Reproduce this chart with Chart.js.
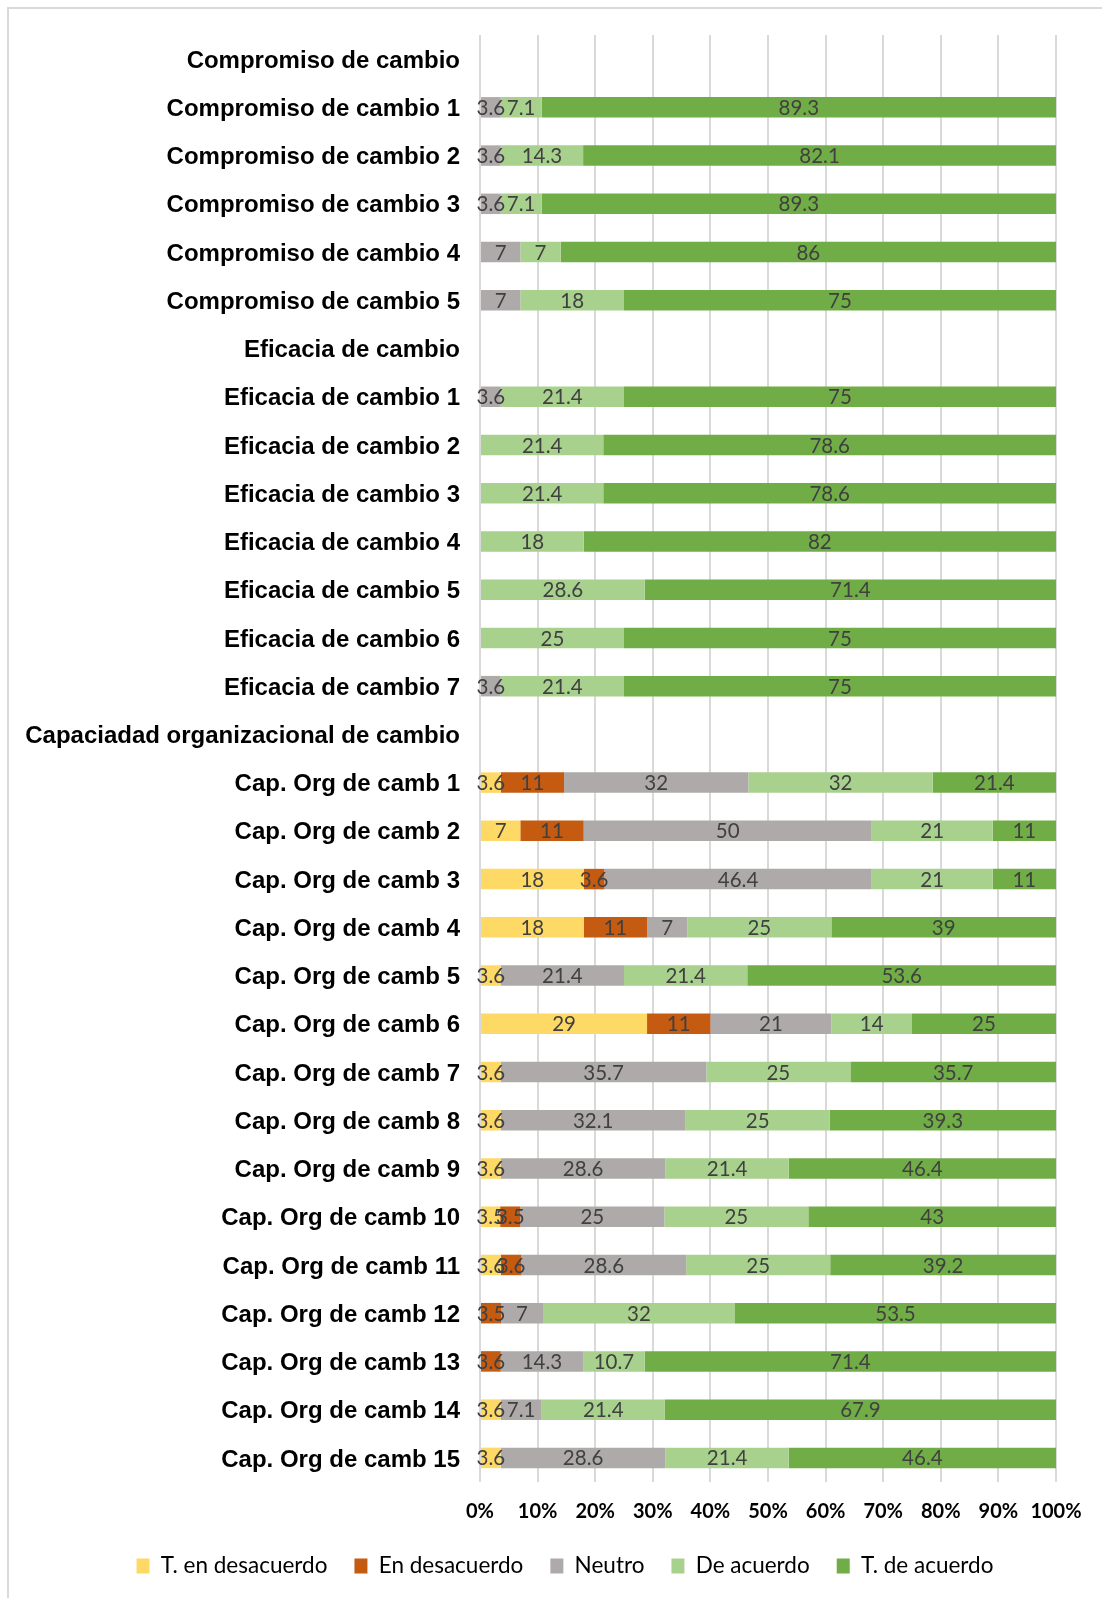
<!DOCTYPE html>
<html>
<head>
<meta charset="utf-8">
<script src="https://cdn.jsdelivr.net/npm/chart.js@4/dist/chart.umd.min.js"></script>
<style>
  html, body { margin: 0; padding: 0; background: #ffffff; }
  #wrap { position: relative; width: 1102px; height: 1598px; overflow: hidden; }
  #frame { position: absolute; left: 7px; top: 7px; width: 1200px; height: 1700px;
           border-left: 2px solid #d9d9d9; border-top: 2px solid #d9d9d9; }
  canvas { position: absolute; left: 0; top: 0; }
</style>
</head>
<body>
<div id="wrap">
  <div id="frame"></div>
  <canvas id="c" width="1102" height="1598"></canvas>
</div>
<script>
// Row labels (section headers have no bars)
const categories = [
  "Compromiso de cambio",
  "Compromiso de cambio 1", "Compromiso de cambio 2", "Compromiso de cambio 3",
  "Compromiso de cambio 4", "Compromiso de cambio 5",
  "Eficacia de cambio",
  "Eficacia de cambio 1", "Eficacia de cambio 2", "Eficacia de cambio 3",
  "Eficacia de cambio 4", "Eficacia de cambio 5", "Eficacia de cambio 6",
  "Eficacia de cambio 7",
  "Capaciadad organizacional de cambio",
  "Cap. Org de camb 1", "Cap. Org de camb 2", "Cap. Org de camb 3",
  "Cap. Org de camb 4", "Cap. Org de camb 5", "Cap. Org de camb 6",
  "Cap. Org de camb 7", "Cap. Org de camb 8", "Cap. Org de camb 9",
  "Cap. Org de camb 10", "Cap. Org de camb 11", "Cap. Org de camb 12",
  "Cap. Org de camb 13", "Cap. Org de camb 14", "Cap. Org de camb 15"
];

const seriesNames = ["T. en desacuerdo", "En desacuerdo", "Neutro", "De acuerdo", "T. de acuerdo"];
const seriesColors = ["#FFD966", "#C55A11", "#AEAAAA", "#A9D18E", "#70AD47"];

// Percentages per response option
const tEnDesacuerdo = [
  null, null, null, null, null, null,
  null, null, null, null, null, null, null, null,
  null, 3.6, 7, 18, 18, 3.6, 29, 3.6, 3.6, 3.6, 3.5, 3.6, null, null, 3.6, 3.6
];
const enDesacuerdo = [
  null, null, null, null, null, null,
  null, null, null, null, null, null, null, null,
  null, 11, 11, 3.6, 11, null, 11, null, null, null, 3.5, 3.6, 3.5, 3.6, null, null
];
const neutro = [
  null, 3.6, 3.6, 3.6, 7, 7,
  null, 3.6, null, null, null, null, null, 3.6,
  null, 32, 50, 46.4, 7, 21.4, 21, 35.7, 32.1, 28.6, 25, 28.6, 7, 14.3, 7.1, 28.6
];
const deAcuerdo = [
  null, 7.1, 14.3, 7.1, 7, 18,
  null, 21.4, 21.4, 21.4, 18, 28.6, 25, 21.4,
  null, 32, 21, 21, 25, 21.4, 14, 25, 25, 21.4, 25, 25, 32, 10.7, 21.4, 21.4
];
const tDeAcuerdo = [
  null, 89.3, 82.1, 89.3, 86, 75,
  null, 75, 78.6, 78.6, 82, 71.4, 75, 75,
  null, 21.4, 11, 11, 39, 53.6, 25, 35.7, 39.3, 46.4, 43, 39.2, 53.5, 71.4, 67.9, 46.4
];

const xTicks = [0, 10, 20, 30, 40, 50, 60, 70, 80, 90, 100];

const series = [tEnDesacuerdo, enDesacuerdo, neutro, deAcuerdo, tDeAcuerdo];

// 100% stacked: each row is scaled to its own total
const rowTotals = categories.map((_, i) =>
  series.reduce((s, arr) => s + (arr[i] || 0), 0));
const toShare = arr => arr.map((v, i) =>
  (v == null || rowTotals[i] === 0) ? null : v / rowTotals[i] * 100);

const datasets = series.map((arr, k) => ({
  label: seriesNames[k],
  data: toShare(arr),
  raw: arr,
  backgroundColor: seriesColors[k],
  borderWidth: 0,
  barPercentage: 0.425,
  categoryPercentage: 1.0
}));

const PAD_LEFT = 20;
const LEGEND_SHIFT = 27;

// Value text centred on each stacked segment
const segmentLabels = {
  id: 'segmentLabels',
  afterDatasetsDraw(chart) {
    const ctx = chart.ctx;
    ctx.save();
    ctx.font = '20.5px Lato';
    ctx.fillStyle = '#404040';
    ctx.textAlign = 'center';
    ctx.textBaseline = 'middle';
    chart.data.datasets.forEach((ds, di) => {
      const meta = chart.getDatasetMeta(di);
      meta.data.forEach((el, i) => {
        const v = ds.raw[i];
        if (v == null || v === 0) return;
        const cx = (el.x + el.base) / 2;
        ctx.fillText(String(v), cx, el.y + 1);
      });
    });
    ctx.restore();
  }
};

// Nudge the legend row to the right of the canvas centre
const legendOffset = {
  id: 'legendOffset',
  afterLayout(chart) {
    const lg = chart.legend;
    if (lg) { lg.left += LEGEND_SHIFT; lg.right += LEGEND_SHIFT; }
  }
};

new Chart(document.getElementById('c'), {
  type: 'bar',
  data: { labels: categories, datasets },
  plugins: [segmentLabels, legendOffset],
  options: {
    indexAxis: 'y',
    responsive: false,
    animation: false,
    layout: { padding: { top: 35, right: 46, bottom: 10.75, left: PAD_LEFT } },
    scales: {
      x: {
        stacked: true,
        min: 0,
        max: 100,
        afterBuildTicks: s => { s.ticks = xTicks.map(v => ({ value: v })); },
        afterFit: s => { s.height = 45.75; },
        border: { display: false },
        grid: { color: '#d9d9d9', lineWidth: 2, drawTicks: false },
        ticks: {
          padding: 18,
          color: '#000000',
          font: { family: 'Lato', size: 20, weight: 'bold' },
          callback: v => v + '%',
          maxRotation: 0,
          autoSkip: false
        }
      },
      y: {
        stacked: true,
        afterFit: s => { s.width = 480 - PAD_LEFT; },
        border: { display: false },
        grid: { display: false, drawTicks: false },
        ticks: {
          padding: 20,
          labelOffset: 2,
          color: '#000000',
          font: { family: 'Liberation Sans', size: 24, weight: 'bold' },
          autoSkip: false
        }
      }
    },
    plugins: {
      legend: {
        position: 'bottom',
        labels: {
          boxWidth: 13,
          boxHeight: 15,
          padding: 27,
          color: '#000000',
          font: { family: 'Lato', size: 22.5 }
        }
      },
      tooltip: { enabled: false }
    }
  }
});
</script>
</body>
</html>
